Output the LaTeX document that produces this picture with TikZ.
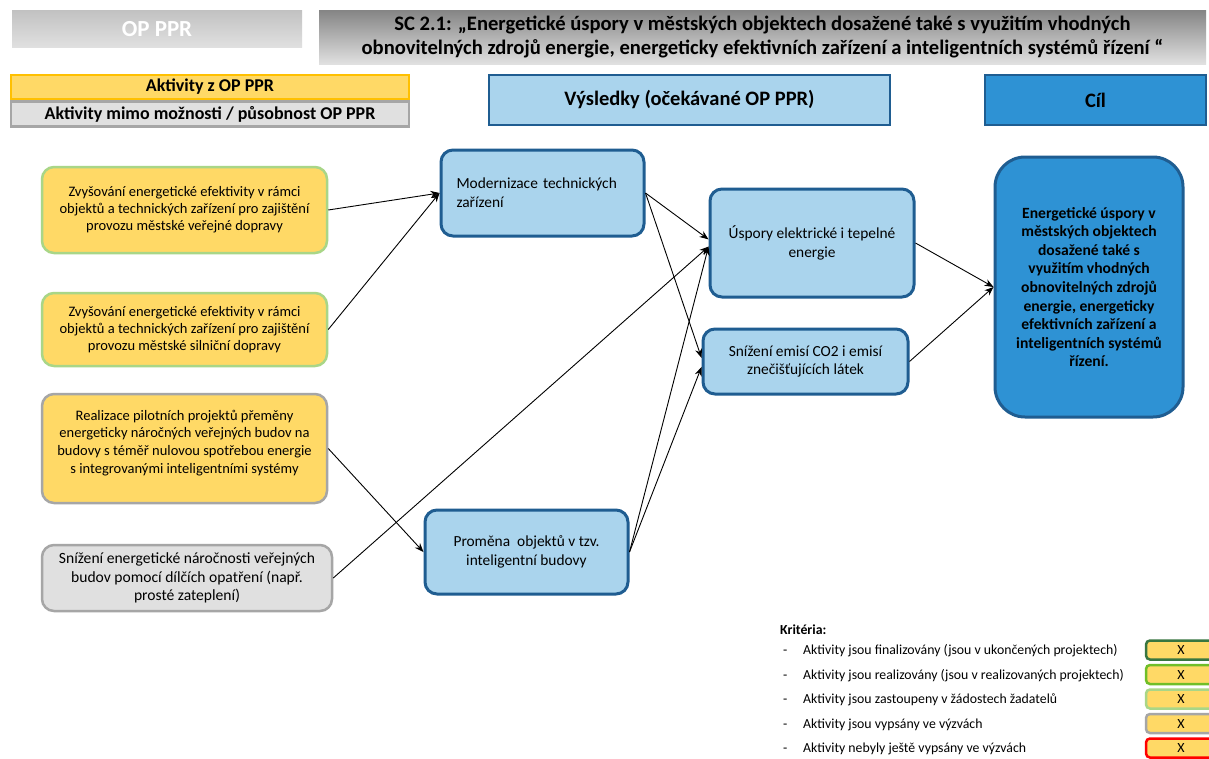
\documentclass[tikz,border=0pt]{standalone}
\usepackage{fontspec}
\setmainfont{Carlito}
\usepackage{xcolor}
\definecolor{ayel}{RGB}{255,217,102}
\definecolor{ayelb}{RGB}{255,192,0}
\definecolor{lgb}{RGB}{169,214,135}
\definecolor{grb}{RGB}{166,166,166}
\definecolor{grf}{RGB}{224,224,224}
\definecolor{lblue}{RGB}{170,212,237}
\definecolor{dblue}{RGB}{31,93,145}
\definecolor{mblue}{RGB}{46,146,212}
\definecolor{kdgreen}{RGB}{56,118,64}
\definecolor{kgreen}{RGB}{112,190,40}
\definecolor{kred}{RGB}{255,0,0}
\usetikzlibrary{arrows.meta,positioning}

\begin{document}
\begin{tikzpicture}[
  x=1pt,y=-1pt,
  hbox/.style={rectangle,align=center,font=\bfseries\fontsize{20.6}{23.5}\selectfont},
  tbox/.style={rectangle,line width=2.5pt,align=center,minimum width=398pt,inner sep=0pt,font=\bfseries\fontsize{18}{20}\selectfont},
  abox/.style={rectangle,draw=lgb,line width=2.5pt,rounded corners=12pt,fill=ayel,align=center,minimum width=285pt,font=\fontsize{14.5}{17}\selectfont},
  rbox/.style={rectangle,draw=dblue,line width=3pt,rounded corners=12pt,fill=lblue,align=center,font=\fontsize{15.4}{18.8}\selectfont},
  lbox/.style={rectangle,draw,line width=2.5pt,rounded corners=4pt,fill=ayel,minimum width=70pt,minimum height=19pt,inner sep=0pt,font=\fontsize{14}{16}\selectfont},
  ktext/.style={anchor=base west,inner sep=0pt,font=\fontsize{13.8}{16}\selectfont},
  arrow/.style={-{Stealth[length=9pt,width=7pt]},line width=0.9pt,black}
]
  \clip (0,0) rectangle (1209,758);
  \fill[white] (0,0) rectangle (1209,758);

  % Headers
  \node[hbox,minimum width=290pt,minimum height=37pt,top color=black!24,bottom color=black!12,text=white,font=\bfseries\fontsize{23}{26}\selectfont] (opppr) at (157,29) {OP PPR};
  \node[hbox,minimum width=887pt,minimum height=54pt,top color=black!48,bottom color=black!12] (sc) at (762.5,37) {SC 2.1: „Energetické úspory v městských objektech dosažené také s využitím vhodných\\obnovitelných zdrojů energie, energeticky efektivních zařízení a inteligentních systémů řízení “};

  % Legend of boxes
  \node[tbox,draw=ayelb,fill=ayel,minimum height=24pt] (akt) at (210,87) {Aktivity z OP PPR};
  \node[tbox,draw=grb,fill=grf,minimum height=25pt,below=0pt of akt] (mimo) {Aktivity mimo možnosti / působnost OP PPR};
  \node[hbox,draw=dblue,line width=2pt,fill=lblue,minimum width=401pt,minimum height=50pt,font=\bfseries\fontsize{20.5}{23}\selectfont] (vys) at (689.5,100) {Výsledky (očekávané OP PPR)};
  \node[hbox,draw=dblue,line width=2pt,fill=mblue,minimum width=221pt,minimum height=50pt,font=\bfseries\fontsize{20.5}{23}\selectfont] (cil) at (1095.5,100) {Cíl};

  % Activities
  \node[abox,minimum height=86pt] (a1) at (184.5,210) {Zvyšování energetické efektivity v rámci\\objektů a technických zařízení pro zajištění\\provozu městské veřejné dopravy};
  \node[abox,minimum height=73pt] (a2) at (184.5,329.5) {Zvyšování energetické efektivity v rámci\\objektů a technických zařízení pro zajištění\\provozu městské silniční dopravy};
  \node[abox,draw=grb,minimum height=109pt,font=\fontsize{14.5}{17.7}\selectfont] (a3) at (184.5,448.5) {Realizace pilotních projektů přeměny\\energeticky náročných veřejných budov na\\budovy s téměř nulovou spotřebou energie\\s integrovanými inteligentními systémy\\[-4pt]};
  \node[abox,draw=grb,fill=grf,minimum width=290pt,minimum height=66pt,font=\fontsize{15.6}{18.5}\selectfont] (a4) at (187,578) {Snížení energetické náročnosti veřejných\\budov pomocí dílčích opatření (např.\\prosté zateplení)};

  % Results
  \node[rbox,minimum width=203pt,minimum height=86pt,text width=172pt,align=left] (m1) at (542.5,193) {Modernizace technických\\zařízení};
  \node[rbox,minimum width=203pt,minimum height=84pt] (m2) at (526.5,552) {Proměna\ \ objektů v tzv.\\inteligentní budovy};
  \node[rbox,minimum width=204pt,minimum height=108pt] (r1) at (812,243) {Úspory elektrické i tepelné\\energie};
  \node[rbox,minimum width=205pt,minimum height=65pt] (r2) at (805.5,361.5) {Snížení emisí CO2 i emisí\\znečišťujících látek};

  % Goal
  \node[rbox,fill=mblue,rounded corners=30pt,minimum width=188pt,minimum height=260pt,font=\bfseries\fontsize{15.6}{18.6}\selectfont] (goal) at (1089,287) {Energetické úspory v\\městských objektech\\dosažené také s\\využitím vhodných\\obnovitelných zdrojů\\energie, energeticky\\efektivních zařízení a\\inteligentních systémů\\řízení.};

  % Arrows
  \draw[arrow] (a1.east) -- (m1.west);
  \draw[arrow] (a2.east) -- (m1.west);
  \draw[arrow] (a3.east) -- (m2.west);
  \draw[arrow] (a4.east) -- (r1.182);
  \draw[arrow] (m1.east) -- (r1.178);
  \draw[arrow] (m1.east) -- (r2.178);
  \draw[arrow] (m2.east) -- (r1.182);
  \draw[arrow] (m2.east) -- (r2.183);
  \draw[arrow] (r1.east) -- (goal.west);
  \draw[arrow] (r2.east) -- (goal.west);

  % Criteria
  \node[ktext,font=\bfseries\fontsize{13.8}{16}\selectfont] (krit) at (780,634.5) {Kritéria:};
  \node[ktext] (d1) at (783,654.5) {-};
  \node[ktext] (d2) at (783,679) {-};
  \node[ktext] (d3) at (783,703.5) {-};
  \node[ktext] (d4) at (783,728) {-};
  \node[ktext] (d5) at (783,752.5) {-};
  \node[ktext] (k1) at (803,654.5) {Aktivity jsou finalizovány (jsou v ukončených projektech)};
  \node[ktext] (k2) at (803,679) {Aktivity jsou realizovány (jsou v realizovaných projektech)};
  \node[ktext] (k3) at (803,703.5) {Aktivity jsou zastoupeny v žádostech žadatelů};
  \node[ktext] (k4) at (803,728) {Aktivity jsou vypsány ve výzvách};
  \node[ktext] (k5) at (803,752.5) {Aktivity nebyly ještě vypsány ve výzvách};
  \node[lbox,draw=kdgreen] (x1) at (1181,650) {X};
  \node[lbox,draw=kgreen] (x2) at (1181,674.5) {X};
  \node[lbox,draw=lgb] (x3) at (1181,699) {X};
  \node[lbox,draw=grb] (x4) at (1181,723.5) {X};
  \node[lbox,draw=kred] (x5) at (1181,748) {X};
\end{tikzpicture}
\end{document}
